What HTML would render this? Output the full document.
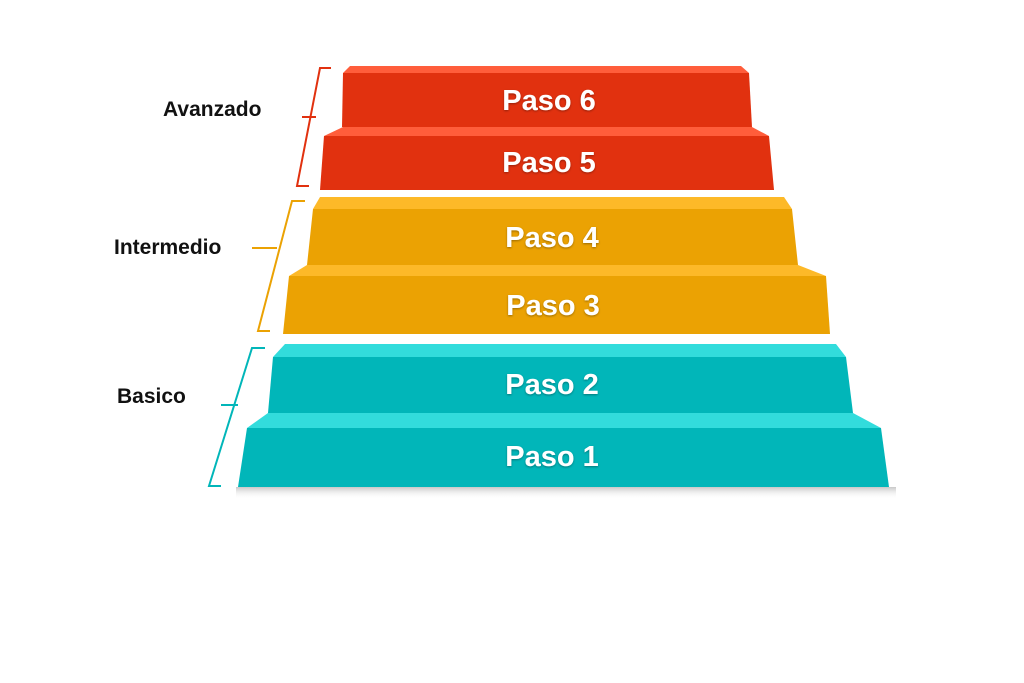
<!DOCTYPE html>
<html><head><meta charset="utf-8"><style>
html,body{margin:0;padding:0;background:#fff;}
svg{display:block}
text{font-family:"Liberation Sans","DejaVu Sans",sans-serif;font-weight:bold}
</style></head><body>
<svg width="1024" height="683" viewBox="0 0 1024 683" xmlns="http://www.w3.org/2000/svg">
<defs>
<linearGradient id="sh" x1="0" y1="0" x2="0" y2="1"><stop offset="0" stop-color="#c8c8c8"/><stop offset="1" stop-color="#fff" stop-opacity="0"/></linearGradient>
<filter id="ts"><feDropShadow dx="0" dy="1" stdDeviation="1" flood-opacity="0.35"/></filter>
</defs>
<rect width="1024" height="683" fill="#fff"/>
<rect x="236" y="487" width="660" height="12" fill="url(#sh)"/>
<!-- Paso 6 -->
<polygon points="350,66 741,66 749,73 343,73" fill="#ff5d3b"/>
<polygon points="343,73 749,73 752,127 342,127" fill="#e1310f"/>
<!-- Paso 5 -->
<polygon points="343,127 752,127 769,136 324,136" fill="#ff5d3b"/>
<polygon points="324,136 769,136 774,190 320,190" fill="#e1310f"/>
<!-- Paso 4 -->
<polygon points="320,197 784,197 792,209 313,209" fill="#fdb928"/>
<polygon points="313,209 792,209 798,265 307,265" fill="#eba203"/>
<!-- Paso 3 -->
<polygon points="307,265 798,265 826,276 289,276" fill="#fdb928"/>
<polygon points="289,276 826,276 830,334 283,334" fill="#eba203"/>
<!-- Paso 2 -->
<polygon points="285,344 836,344 846,357 273,357" fill="#32dcdc"/>
<polygon points="273,357 846,357 853,413 268,413" fill="#01b6b9"/>
<!-- Paso 1 -->
<polygon points="268,413 853,413 881,428 247,428" fill="#32dcdc"/>
<polygon points="247,428 881,428 889,487 238,487" fill="#01b6b9"/>
<g fill="#fff" font-size="29" text-anchor="middle" filter="url(#ts)">
<text x="549" y="110">Paso 6</text>
<text x="549" y="172">Paso 5</text>
<text x="552" y="247">Paso 4</text>
<text x="553" y="315">Paso 3</text>
<text x="552" y="394">Paso 2</text>
<text x="552" y="466">Paso 1</text>
</g>
<!-- brackets -->
<g fill="none" stroke-width="2">
<polyline points="331,68 320,68 297,186 309,186" stroke="#e1310f"/>
<line x1="302" y1="117" x2="316" y2="117" stroke="#e1310f"/>
<polyline points="305,201 292,201 258,331 270,331" stroke="#eba203"/>
<line x1="252" y1="248" x2="277" y2="248" stroke="#eba203"/>
<polyline points="265,348 252,348 209,486 221,486" stroke="#01b6b9"/>
<line x1="221" y1="405" x2="238" y2="405" stroke="#01b6b9"/>
</g>
<g fill="#111" font-size="21">
<text x="163" y="116">Avanzado</text>
<text x="114" y="254">Intermedio</text>
<text x="117" y="403">Basico</text>
</g>
</svg>
</body></html>
